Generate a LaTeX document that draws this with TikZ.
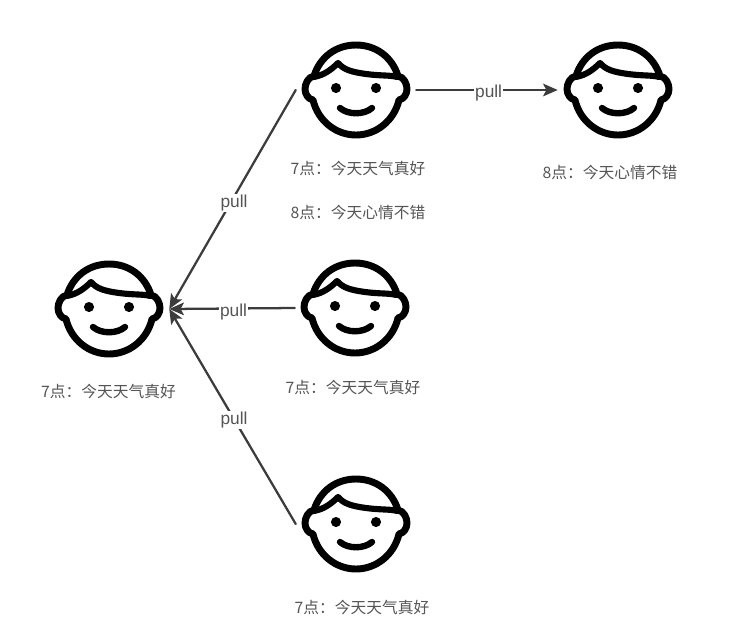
\documentclass[tikz,border=0pt]{standalone}
\usepackage{fontspec}
\setmainfont{Liberation Sans}
\newfontfamily\cjkfont{Noto Sans CJK SC}
\usetikzlibrary{arrows.meta}
\definecolor{cInk}{HTML}{3C3C3C}
\definecolor{cText}{HTML}{555555}

\begin{document}
\begin{tikzpicture}[
 x=.75pt,y=-.75pt,line cap=round,line join=round,
 facebox/.style={minimum width=90pt,minimum height=72pt,inner sep=0pt},
 wire/.style={draw=cInk,line width=1.7pt,-{Stealth[length=11pt,width=9.5pt,inset=2.5pt]}},
 say/.style={font=\fontsize{11.8}{14}\cjkfont,text=cText,inner sep=0pt},
 pull/.style={font=\fontsize{13}{15}\selectfont,text=cText,fill=white,inner sep=.8pt,yshift=-2.6pt,xshift=1.2pt},
 face/.pic={
  \draw[black,line width=5.2pt]
    (-42,-14) .. controls (-36,-33) and (-20,-45) .. (0,-45)
    .. controls (20,-45) and (36,-33) .. (42,-14)
    .. controls (48,-13) and (51,-6) .. (51,-1)
    .. controls (51,4) and (48,9) .. (43,10)
    .. controls (38,31) and (20,45) .. (0,45)
    .. controls (-20,45) and (-38,31) .. (-43,10)
    .. controls (-48,9) and (-51,4) .. (-51,-1)
    .. controls (-51,-6) and (-48,-13) .. (-42,-14) -- cycle;
  \draw[black,line width=4.6pt]
    (-42,-13) .. controls (-32,-15) and (-25,-20) .. (-18,-27)
    .. controls (-12,-20) and (-4,-18) .. (10,-16)
    .. controls (25,-14) and (35,-15) .. (41,-13);
  \fill[black] (-20,-2) circle (3.8pt) (20,-2) circle (3.8pt);
  \draw[black,line width=4.8pt] (-16,18) .. controls (-8,25) and (8,25) .. (16,18);
 }]
\path[use as bounding box] (0,0) rectangle (742,640);

% faces
\foreach \who/\xx/\yy in {faceLeft/109/309,faceTop/356/90,faceFar/618/90,faceMid/355/308,faceLow/356/524} {
  \node[facebox] (\who) at (\xx,\yy) {};
  \pic at (\who.center) {face};
}

% what each one has read
\node[say] (sayLeft) at (108.5,391) {7点：今天天气真好};
\node[say] (sayTopA) at (358,168) {7点：今天天气真好};
\node[say] (sayTopB) at (358,212) {8点：今天心情不错};
\node[say] (sayFar) at (610,172) {8点：今天心情不错};
\node[say] (sayMid) at (353,387) {7点：今天天气真好};
\node[say] (sayLow) at (362,607) {7点：今天天气真好};

\draw[wire] (faceTop.west) -- node[pull] {pull} (faceLeft.east);
\draw[wire] (faceMid.west) -- node[pull] {pull} (faceLeft.east);
\draw[wire] (faceLow.west) -- node[pull] {pull} (faceLeft.east);
\draw[wire] (faceTop.east) -- node[pull] {pull} (faceFar.west);
\end{tikzpicture}
\end{document}
